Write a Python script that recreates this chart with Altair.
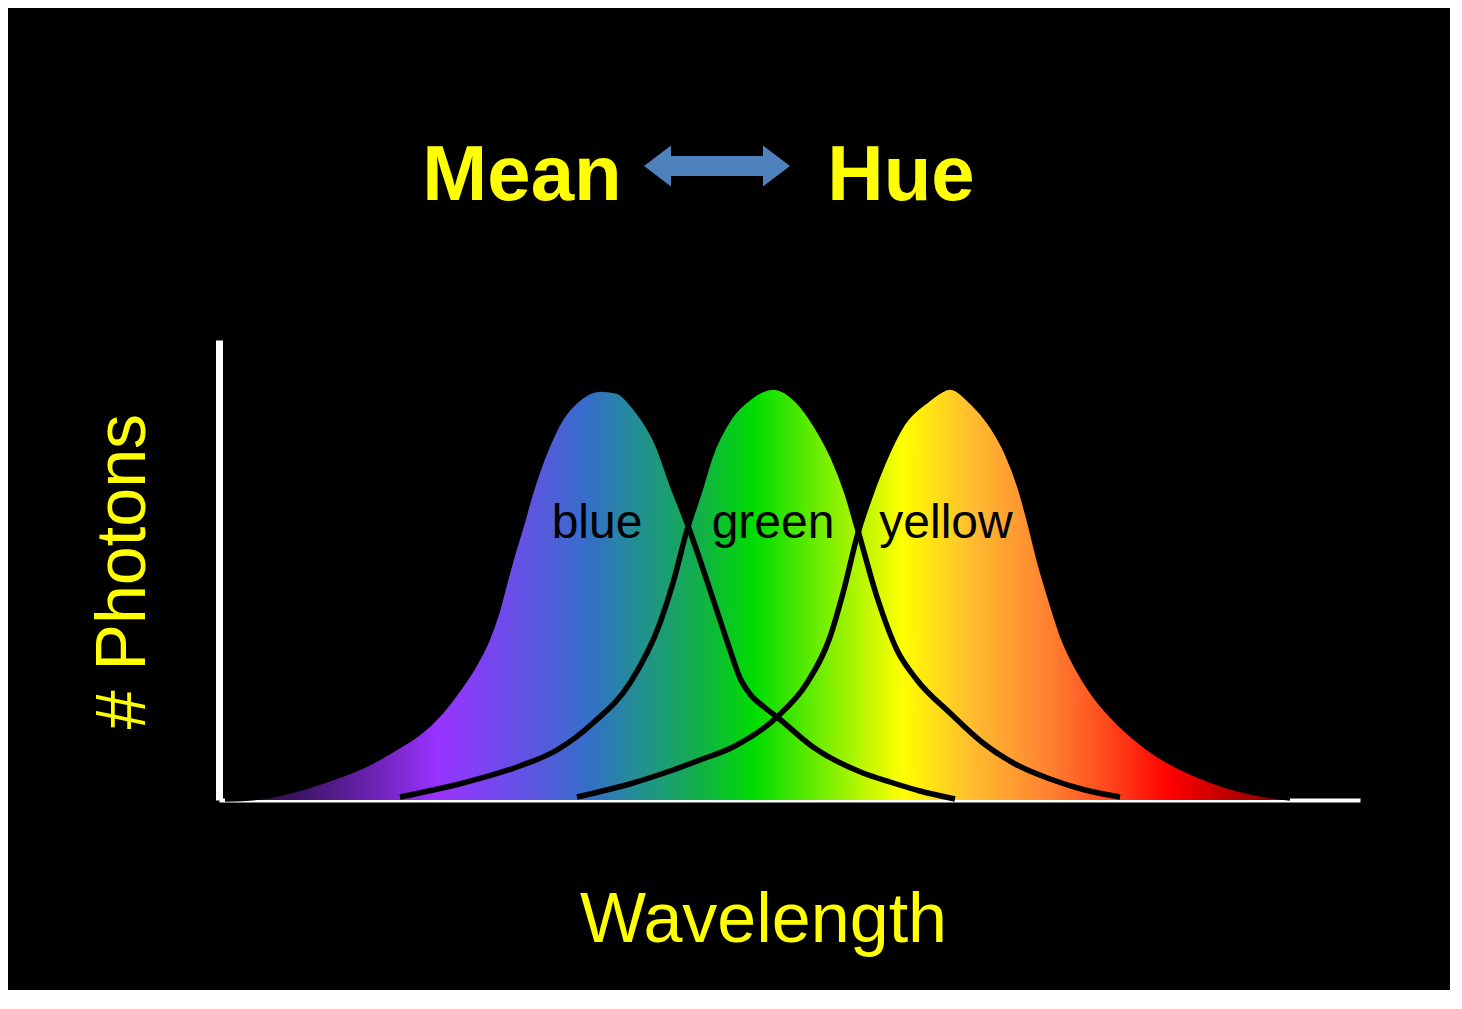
import altair as alt
import pandas as pd

# ---- data (x: position along the wavelength axis, y: number of photons; arbitrary units) ----
blue_x = [6, 41, 98, 168, 221, 241, 254, 268, 278, 286, 294, 301, 311, 318, 328, 341, 358, 381, 398, 418,
          438, 454, 468, 481, 491, 501, 511, 521, 531, 545, 558, 594, 644, 671, 701, 736]
blue_y = [1, 3, 17, 47, 87, 113, 133, 160, 188, 218, 247, 270, 305, 327, 353, 380, 400, 411, 409, 390,
          357, 313, 277, 240, 210, 180, 150, 122, 106, 93, 83, 53, 27, 18, 9, 1]

green_x = [181, 244, 298, 338, 374, 411, 441, 454, 468, 481, 491, 511, 531, 554, 578, 598, 614, 628, 638,
           658, 678, 698, 731, 764, 798, 831, 866, 901]
green_y = [3, 17, 33, 50, 77, 117, 177, 217, 270, 310, 343, 383, 403, 413, 400, 373, 343, 307, 273,
           203, 150, 120, 87, 57, 35, 21, 10, 3]

yellow_x = [358, 414, 454, 481, 514, 558, 588, 611, 624, 639, 648, 664, 684, 708, 731, 754, 771, 788, 801,
            811, 821, 831, 844, 858, 874, 894, 928, 991, 1048, 1071]
yellow_y = [3, 17, 30, 40, 53, 83, 117, 163, 207, 267, 295, 337, 377, 400, 413, 397, 377, 347, 313,
            277, 237, 203, 163, 133, 107, 83, 53, 20, 5, 2]

label_names = ["blue", "green", "yellow"]
label_x = [378, 554, 727]
label_y = [262, 262, 262]

# spectrum colours along the wavelength axis
stop_pos = [11, 81, 151, 218, 301, 371, 421, 481, 536, 611, 683, 751, 831, 881, 951, 1066]
stop_colors = ["#1c0a2c", "#3f1468", "#6a22b0", "#9933ff", "#6650e6", "#3370c8", "#229090", "#12b048",
               "#00dd00", "#80f000", "#ffff00", "#ffbe30", "#ff8030", "#ff5020", "#ff0000", "#800000"]

X_MIN, X_MAX = 0, 1141
Y_MIN, Y_MAX = 0, 460
YELLOW = "#ffff00"

x_enc = alt.X(
    "x:Q",
    scale=alt.Scale(domain=[X_MIN, X_MAX], nice=False, zero=False),
    axis=alt.Axis(title="Wavelength", titleColor=YELLOW, titleFont="Liberation Sans",
                  titleFontSize=70, titleFontWeight="normal", titleX=544, titleY=141,
                  titleAlign="center", titleBaseline="alphabetic",
                  domainColor="white", domainWidth=4, ticks=False, labels=False, grid=False),
)
y_enc = alt.Y(
    "y:Q",
    scale=alt.Scale(domain=[Y_MIN, Y_MAX], nice=False, zero=False),
    axis=alt.Axis(title="# Photons", titleColor=YELLOW, titleFont="Liberation Sans",
                  titleFontSize=70, titleFontWeight="normal", titleAngle=270, titleX=-75, titleY=231,
                  titleAlign="center", titleBaseline="alphabetic",
                  domainColor="white", domainWidth=7, ticks=False, labels=False, grid=False),
)


def spectrum_for(xs):
    lo, hi = min(xs), max(xs)
    span = hi - lo
    return alt.Gradient(
        gradient="linear",
        x1=(X_MIN - lo) / span, x2=(X_MAX - lo) / span, y1=0, y2=0,
        stops=[alt.GradientStop(color=c, offset=p / X_MAX) for p, c in zip(stop_pos, stop_colors)],
    )


curves = [(blue_x, blue_y), (green_x, green_y), (yellow_x, yellow_y)]

areas = []
lines = []
for xs, ys in curves:
    df = pd.DataFrame({"x": xs, "y": ys})
    areas.append(
        alt.Chart(df).mark_area(interpolate="monotone", color=spectrum_for(xs)).encode(x=x_enc, y=y_enc)
    )
    lines.append(
        alt.Chart(df).mark_line(interpolate="monotone", color="black", strokeWidth=5.5).encode(x=x_enc, y=y_enc)
    )

labels = alt.Chart(pd.DataFrame({"x": label_x, "y": label_y, "name": label_names})).mark_text(
    font="Liberation Sans", fontSize=48, color="black",
    align="center", baseline="alphabetic",
).encode(x=x_enc, y=y_enc, text="name:N")

one = alt.Data(values=[{}])
title_mean = alt.Chart(one).mark_text(
    text="Mean", font="Liberation Sans", fontWeight="bold", fontSize=78, color=YELLOW,
    align="center", baseline="alphabetic",
).encode(x=alt.value(303), y=alt.value(-140))
title_hue = alt.Chart(one).mark_text(
    text="Hue", font="Liberation Sans", fontWeight="bold", fontSize=78, color=YELLOW,
    align="center", baseline="alphabetic",
).encode(x=alt.value(682), y=alt.value(-140))

ARROW = ("M -1 0 L -0.63 -0.28 L -0.63 -0.137 L 0.63 -0.137 L 0.63 -0.28 L 1 0 "
         "L 0.63 0.28 L 0.63 0.137 L -0.63 0.137 L -0.63 0.28 Z")
arrow = alt.Chart(one).mark_point(
    shape=ARROW, filled=True, size=146 * 146, color="#4f81bd", opacity=1, strokeWidth=0,
).encode(x=alt.value(498), y=alt.value(-174))

chart = alt.layer(*areas, *lines, labels, title_mean, title_hue, arrow).properties(
    width=X_MAX - X_MIN,
    height=Y_MAX - Y_MIN,
    autosize=alt.AutoSizeParams(type="none"),
    padding={"left": 211, "top": 332, "right": 90, "bottom": 190},
).configure(background="black").configure_view(strokeOpacity=0)

chart.save("out.html", embed_options={"renderer": "svg", "actions": False})
